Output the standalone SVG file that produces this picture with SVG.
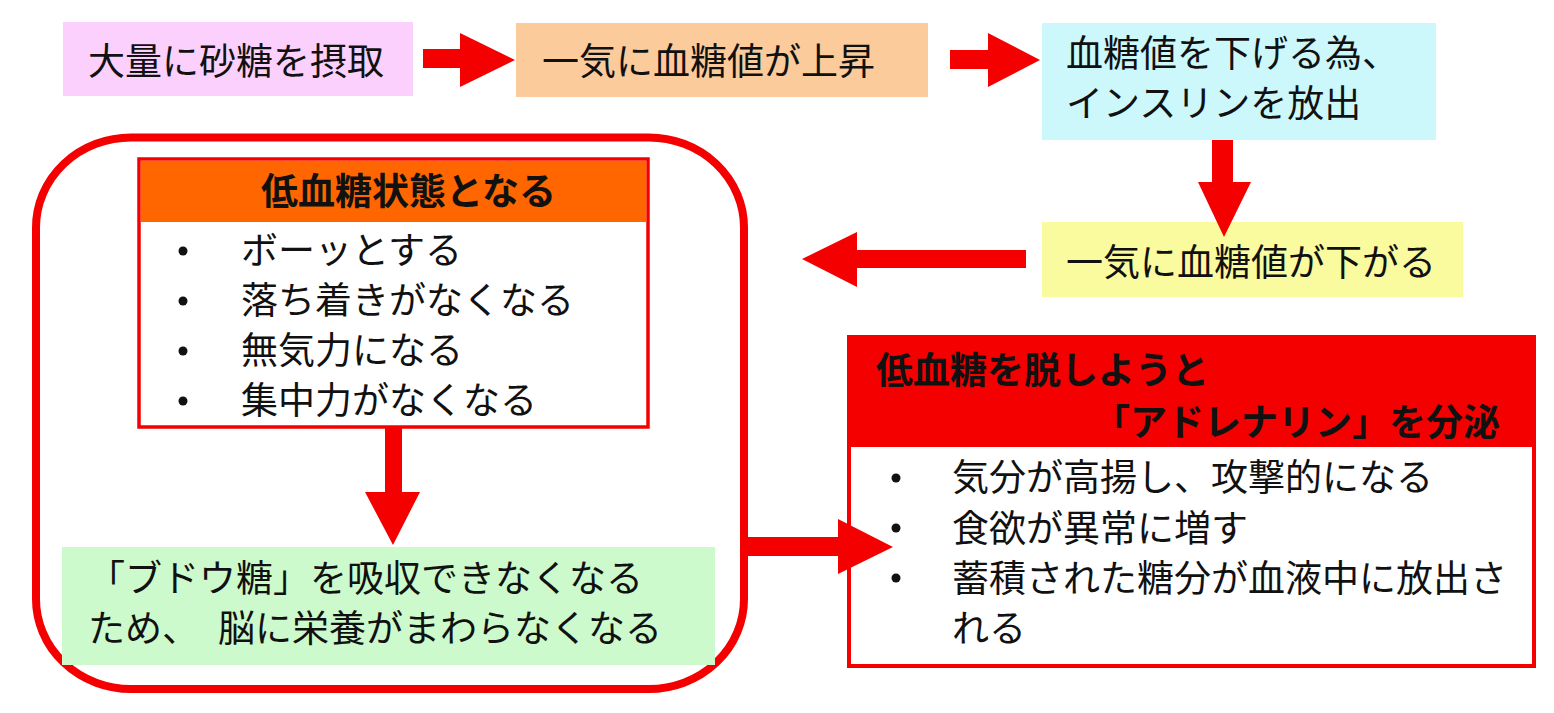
<svg xmlns="http://www.w3.org/2000/svg" width="1554" height="713" viewBox="0 0 1554 713">
<style>
.t{font-family:"Noto Sans CJK JP","Noto Sans",sans-serif;font-size:37px;fill:#111;}
.b{font-weight:bold;}
.arrow{fill:#f40000;}
.bul{fill:#111;}
</style>
<rect width="1554" height="713" fill="#ffffff"/>
<g id="outer-group">
<rect x="36" y="137.5" width="708" height="551.5" rx="95" ry="90" fill="none" stroke="#f40000" stroke-width="8"/>
</g>
<g id="n1">
<rect x="63" y="22" width="350" height="74" fill="#fcd0fc"/>
<text class="t" x="88" y="75">大量に砂糖を摂取</text>
</g>
<g id="n2">
<rect x="516" y="23" width="412" height="74" fill="#fbcb9c"/>
<text class="t" x="542" y="75">一気に血糖値が上昇</text>
</g>
<g id="n3">
<rect x="1042" y="23" width="394" height="117" fill="#ccf7fb"/>
<text class="t" x="1066" y="67">血糖値を下げる為、</text>
<text class="t" x="1066" y="117">インスリンを放出</text>
</g>
<g id="n4">
<rect x="1042" y="222" width="421" height="75" fill="#fafa9e"/>
<text class="t" x="1066" y="276">一気に血糖値が下がる</text>
</g>
<g id="n5">
<rect x="139" y="159" width="509" height="268" fill="#ffffff" stroke="#f40000" stroke-width="3.5"/>
<rect x="140.75" y="160.75" width="505.5" height="61.25" fill="#ff6600"/>
<text class="t b" x="261" y="205">低血糖状態となる</text>
<circle class="bul" cx="183" cy="251" r="4.5"/>
<circle class="bul" cx="183" cy="301" r="4.5"/>
<circle class="bul" cx="183" cy="351" r="4.5"/>
<circle class="bul" cx="183" cy="401" r="4.5"/>
<text class="t" x="241" y="264">ボーッとする</text>
<text class="t" x="241" y="314">落ち着きがなくなる</text>
<text class="t" x="241" y="364">無気力になる</text>
<text class="t" x="241" y="414">集中力がなくなる</text>
</g>
<g id="n6">
<rect x="62" y="547" width="653" height="118" fill="#ccfacc"/>
<text class="t" x="88" y="592">「ブドウ糖」を吸収できなくなる</text>
<text class="t" x="88" y="642"><tspan>ため、 </tspan><tspan x="218">脳に栄養がまわらなくなる</tspan></text>
</g>
<g id="n7">
<rect x="849" y="337" width="685" height="329" fill="#ffffff" stroke="#f40000" stroke-width="4"/>
<rect x="849" y="335" width="687" height="112" fill="#f40000"/>
<text class="t b" x="876" y="384">低血糖を脱しようと</text>
<text class="t b" x="1093" y="436">「アドレナリン」を分泌</text>
<circle class="bul" cx="896" cy="478" r="4.5"/>
<circle class="bul" cx="896" cy="528" r="4.5"/>
<circle class="bul" cx="896" cy="578" r="4.5"/>
<text class="t" x="952" y="491">気分が高揚し、攻撃的になる</text>
<text class="t" x="952" y="542">食欲が異常に増す</text>
<text class="t" x="952" y="592">蓄積された糖分が血液中に放出さ</text>
<text class="t" x="952" y="642">れる</text>
</g>
<g id="connectors">
<polygon class="arrow" points="423,49 460,49 460,33 515,60 460,87 460,68 423,68"/>
<polygon class="arrow" points="950,50 988,50 988,33 1040,60 988,87 988,69 950,69"/>
<polygon class="arrow" points="1212,140 1233,140 1233,182 1251,182 1224,237 1198,182 1212,182"/>
<polygon class="arrow" points="1026,250 857,250 857,232 802,259 857,287 857,268 1026,268"/>
<polygon class="arrow" points="385,428 402,428 402,492 420,492 393,545 365,492 385,492"/>
<polygon class="arrow" points="748,537 838,537 838,519 893,547 838,574 838,556 748,556"/>
</g>
</svg>
